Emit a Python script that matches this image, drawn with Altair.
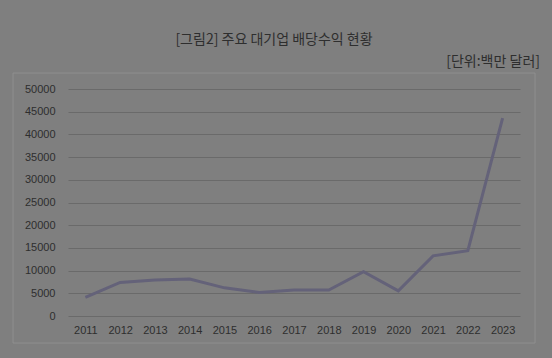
import altair as alt
import pandas as pd

years = ["2011", "2012", "2013", "2014", "2015", "2016", "2017",
         "2018", "2019", "2020", "2021", "2022", "2023"]
values = [4100, 7400, 7950, 8150, 6200, 5200, 5700,
          5700, 9750, 5550, 13250, 14400, 43600]
y_ticks = list(range(0, 50001, 5000))
title_text = "[그림2] 주요 대기업 배당수익 현황"
unit_text = "[단위:백만 달러]"

df = pd.DataFrame({"year": years, "value": values})

W, H = 452, 227
BG = "#7f7f7f"
TXT = "#2e2e2e"

box = alt.Chart(pd.DataFrame({"a": [0]})).mark_rect(
    fill=None, stroke="#8f8f8f", strokeWidth=1
).encode(
    x=alt.value(-55), x2=alt.value(467), y=alt.value(-16), y2=alt.value(254)
)

line = alt.Chart(df).mark_line(color="#646279", strokeWidth=3).encode(
    x=alt.X("year:O", sort=years, title=None,
            scale=alt.Scale(paddingInner=1, paddingOuter=0.5),
            axis=alt.Axis(labelAngle=0, ticks=False, domain=False,
                          labelFont="Liberation Sans", labelFontSize=11,
                          labelColor=TXT, labelPadding=8)),
    y=alt.Y("value:Q", title=None,
            scale=alt.Scale(domain=[0, 50000], nice=False),
            axis=alt.Axis(values=y_ticks, format="d", ticks=False, domain=False,
                          labelFont="Liberation Sans", labelFontSize=11,
                          labelColor=TXT, labelPadding=13,
                          gridColor="#6a6a6a", gridWidth=1))
)

title = alt.Chart(pd.DataFrame({"t": [title_text]})).mark_text(
    font="Noto Sans CJK KR", fontSize=14, color=TXT, align="center", baseline="middle"
).encode(text="t:N", x=alt.value(206), y=alt.value(-49))

unit = alt.Chart(pd.DataFrame({"t": [unit_text]})).mark_text(
    font="Noto Sans CJK KR", fontSize=14, color=TXT, align="right", baseline="middle"
).encode(text="t:N", x=alt.value(472), y=alt.value(-27))

chart = alt.layer(box, line, title, unit).properties(
    width=W, height=H,
    autosize=alt.AutoSizeParams(type="none"),
    padding={"left": 68, "top": 89, "right": 32, "bottom": 42},
    background=BG,
).configure_view(stroke=None)

chart.save("out.html", embed_options={"renderer": "svg", "actions": False})
